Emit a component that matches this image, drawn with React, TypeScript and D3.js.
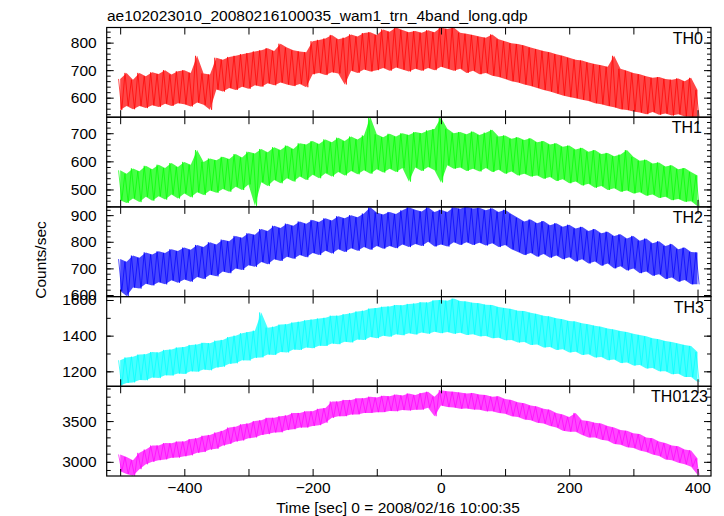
import { useRef, useEffect } from 'react'
import * as d3 from 'd3'

const title = 'ae102023010_20080216100035_wam1_trn_4band_long.qdp'
const xTitle = 'Time [sec] 0 = 2008/02/16 10:00:35'
const yTitle = 'Counts/sec'

// bin centres, 10 s apart
const times = d3.range(-500, 401, 10)
const xTicks = [-500, -400, -300, -200, -100, 0, 100, 200, 300, 400]
const xLabels = [-400, -200, 0, 200, 400]

// low / high edge of each light curve per 10 s bin
const th0Lo = [
  555, 570, 558, 570, 562, 572, 566, 578, 570, 580,
  576, 568, 582, 574, 556, 630, 622, 635, 628, 640,
  632, 645, 640, 652, 645, 655, 648, 642, 650, 638,
  685, 690, 682, 692, 688, 648, 698, 690, 702, 695,
  700, 708, 698, 710, 702, 695, 705, 698, 708, 700,
  712, 705, 698, 705, 690, 698, 685, 690, 680, 675,
  668, 660, 655, 648, 642, 635, 628, 622, 615, 608,
  602, 598, 592, 588, 580, 576, 570, 565, 558, 555,
  550, 546, 540, 548, 538, 542, 535, 540, 532, 530,
  530,
]
const th0Hi = [
  668, 690, 665, 690, 678, 692, 686, 700, 684, 696,
  700, 690, 752, 688, 684, 745, 738, 748, 752, 758,
  762, 768, 772, 780, 770, 796, 782, 772, 768, 765,
  805, 810, 815, 828, 812, 818, 830, 822, 835, 838,
  828, 848, 840, 855, 846, 838, 842, 836, 845, 838,
  855, 850, 855, 836, 832, 828, 822, 818, 830, 812,
  805, 798, 795, 790, 782, 776, 770, 765, 758, 752,
  745, 738, 735, 728, 722, 718, 712, 752, 705, 698,
  690, 685, 678, 672, 675, 668, 665, 670, 660, 672,
  628,
]
const th1Lo = [
  462, 452, 468, 455, 474, 460, 476, 464, 482, 468,
  486, 472, 490, 480, 496, 488, 502, 492, 510, 498,
  518, 442, 526, 512, 534, 522, 540, 528, 546, 534,
  552, 540, 558, 546, 562, 550, 566, 554, 568, 556,
  572, 560, 574, 562, 576, 528, 578, 566, 580, 568,
  525, 586, 574, 578, 566, 574, 564, 576, 562, 570,
  556, 564, 550, 556, 546, 550, 538, 544, 530, 536,
  522, 528, 514, 520, 506, 512, 498, 504, 492, 496,
  486, 490, 478, 482, 470, 474, 462, 466, 456, 458,
  440,
]
const th1Hi = [
  568, 556, 575, 565, 584, 572, 588, 576, 594, 580,
  598, 588, 640, 598, 610, 604, 616, 608, 626, 614,
  634, 628, 644, 632, 650, 640, 656, 644, 664, 660,
  672, 662, 678, 668, 684, 672, 688, 678, 692, 758,
  696, 686, 698, 688, 700, 694, 704, 700, 710, 715,
  756, 716, 700, 704, 696, 706, 694, 702, 712, 688,
  692, 680, 686, 676, 682, 668, 672, 660, 664, 652,
  656, 642, 648, 634, 640, 626, 630, 618, 624, 640,
  616, 602, 606, 592, 596, 582, 586, 572, 576, 562,
  550,
]
const th2Lo = [
  615, 596, 628, 624, 642, 636, 648, 640, 655, 646,
  658, 650, 668, 660, 676, 670, 688, 682, 700, 694,
  712, 706, 724, 716, 734, 728, 744, 736, 750, 742,
  758, 750, 766, 756, 772, 762, 776, 766, 780, 770,
  784, 774, 784, 776, 790, 780, 792, 784, 800, 782,
  790, 782, 798, 788, 798, 788, 796, 786, 794, 780,
  788, 772, 762, 750, 758, 744, 754, 740, 748, 734,
  742, 726, 734, 718, 726, 710, 718, 700, 708, 692,
  700, 682, 688, 672, 678, 660, 666, 650, 656, 640,
  640,
]
const th2Hi = [
  735, 725, 748, 740, 760, 752, 764, 758, 772, 765,
  778, 770, 788, 780, 798, 790, 808, 802, 822, 815,
  832, 826, 848, 840, 860, 852, 868, 860, 876, 868,
  882, 874, 888, 880, 896, 888, 900, 892, 906, 930,
  910, 902, 912, 904, 918, 930, 920, 914, 930, 912,
  920, 912, 930, 924, 932, 925, 928, 918, 926, 912,
  920, 904, 890, 876, 884, 870, 878, 862, 870, 856,
  864, 850, 856, 840, 848, 832, 838, 822, 828, 812,
  822, 804, 812, 794, 802, 784, 792, 772, 778, 762,
  760,
]
const th3Lo = [
  1120, 1135, 1138, 1152, 1150, 1165, 1162, 1178, 1176, 1188,
  1185, 1200, 1198, 1210, 1206, 1222, 1226, 1242, 1245, 1262,
  1260, 1276, 1278, 1294, 1292, 1308, 1306, 1322, 1320, 1334,
  1330, 1344, 1342, 1356, 1352, 1366, 1362, 1378, 1376, 1392,
  1386, 1400, 1394, 1408, 1402, 1414, 1406, 1418, 1410, 1422,
  1414, 1420, 1410, 1416, 1404, 1408, 1396, 1398, 1386, 1388,
  1374, 1376, 1362, 1364, 1348, 1350, 1334, 1336, 1320, 1324,
  1306, 1310, 1292, 1296, 1278, 1280, 1262, 1266, 1246, 1250,
  1232, 1236, 1216, 1218, 1200, 1200, 1184, 1186, 1168, 1168,
  1140,
]
const th3Hi = [
  1262, 1278, 1282, 1294, 1296, 1308, 1306, 1320, 1322, 1334,
  1336, 1348, 1350, 1360, 1358, 1372, 1376, 1392, 1400, 1414,
  1420, 1428, 1530, 1445, 1450, 1462, 1464, 1474, 1478, 1486,
  1490, 1496, 1500, 1512, 1512, 1520, 1526, 1536, 1540, 1552,
  1555, 1562, 1564, 1572, 1570, 1578, 1580, 1588, 1586, 1598,
  1600, 1596, 1608, 1594, 1592, 1584, 1582, 1574, 1572, 1560,
  1555, 1550, 1540, 1538, 1528, 1522, 1512, 1508, 1498, 1492,
  1482, 1480, 1470, 1464, 1456, 1450, 1440, 1434, 1426, 1420,
  1410, 1404, 1396, 1386, 1380, 1370, 1364, 1356, 1348, 1342,
  1308,
]
const thAllLo = [
  2885, 2850, 2830, 2910, 2970, 3000, 3020, 3030, 3050, 3052,
  3068, 3080, 3110, 3120, 3150, 3160, 3200, 3220, 3250, 3262,
  3290, 3300, 3330, 3340, 3360, 3362, 3390, 3400, 3420, 3420,
  3440, 3450, 3480, 3540, 3560, 3560, 3580, 3582, 3600, 3600,
  3610, 3610, 3625, 3620, 3635, 3630, 3640, 3640, 3665, 3560,
  3690, 3672, 3668, 3650, 3655, 3642, 3640, 3620, 3620, 3600,
  3590, 3560, 3550, 3520, 3510, 3480, 3470, 3440, 3420, 3380,
  3370, 3370, 3330, 3300, 3300, 3270, 3260, 3220, 3210, 3180,
  3170, 3140, 3120, 3090, 3070, 3030, 3020, 2990, 2970, 2940,
  2840,
]
const thAllHi = [
  3090, 3060, 3020, 3110, 3150, 3200, 3200, 3230, 3228, 3250,
  3250, 3280, 3290, 3320, 3330, 3360, 3380, 3420, 3430, 3460,
  3470, 3500, 3510, 3540, 3540, 3560, 3570, 3600, 3600, 3620,
  3620, 3650, 3660, 3740, 3740, 3760, 3760, 3780, 3780, 3800,
  3790, 3810, 3805, 3825, 3815, 3840, 3820, 3845, 3860, 3800,
  3880, 3865, 3860, 3850, 3840, 3845, 3825, 3820, 3800, 3805,
  3770, 3760, 3730, 3720, 3690, 3680, 3650, 3640, 3600, 3580,
  3550, 3600, 3510, 3500, 3480, 3470, 3440, 3420, 3390, 3380,
  3350, 3340, 3300, 3290, 3250, 3230, 3200, 3190, 3150, 3140,
  3040,
]

interface Panel {
  name: string
  color: string
  lo: number[]
  hi: number[]
  domain: [number, number]
  major: number[]
  minorStep: number
  labelX: number
}

const panels: Panel[] = [
  { name: 'TH0', color: '#ff0000', lo: th0Lo, hi: th0Hi, domain: [529, 855], major: [600, 700, 800], minorStep: 20, labelX: 703 },
  { name: 'TH1', color: '#00ff00', lo: th1Lo, hi: th1Hi, domain: [438, 757], major: [500, 600, 700], minorStep: 20, labelX: 702 },
  { name: 'TH2', color: '#0000ff', lo: th2Lo, hi: th2Hi, domain: [594, 931], major: [600, 700, 800, 900], minorStep: 20, labelX: 703 },
  { name: 'TH3', color: '#00ffff', lo: th3Lo, hi: th3Hi, domain: [1116, 1619], major: [1200, 1400, 1600], minorStep: 100, labelX: 704 },
  { name: 'TH0123', color: '#ff00ff', lo: thAllLo, hi: thAllHi, domain: [2826, 3927], major: [3000, 3500], minorStep: 100, labelX: 708 },
]

const font = '"Liberation Sans", Arial, Helvetica, sans-serif'

const App = () => {
  const ref = useRef<SVGSVGElement>(null)

  useEffect(() => {
    if (!ref.current) return
    const svg = d3.select(ref.current)
    svg.selectAll('*').remove()

    const left = 106.7
    const right = 711
    const top = 27.5
    const panelH = 89.7

    const x = d3.scaleLinear().domain([-521, 421]).range([left, right])

    const tidy = (g: d3.Selection<SVGGElement, unknown, null, undefined>) => {
      g.select('.domain').remove()
      g.selectAll('line').attr('stroke', '#000').attr('stroke-width', 1)
      g.selectAll('text').attr('font-size', 15.5).attr('font-family', font).attr('fill', '#000')
    }

    svg.append('text')
      .attr('x', 107).attr('y', 20.5)
      .attr('font-size', 15.5).attr('font-family', font)
      .text(title)

    panels.forEach((p, i) => {
      const y0 = top + i * panelH
      const y1 = y0 + panelH
      const y = d3.scaleLinear().domain(p.domain).range([y1, y0])

      const clipId = `clip-${i}`
      svg.append('clipPath').attr('id', clipId)
        .append('rect')
        .attr('x', left).attr('y', y0)
        .attr('width', right - left).attr('height', panelH)

      const g = svg.append('g').attr('clip-path', `url(#${clipId})`)

      const area = d3.area<number>()
        .x((_, j) => x(times[j]))
        .y0((_, j) => y(p.lo[j]))
        .y1((_, j) => y(p.hi[j]))
      g.append('path').datum(times)
        .attr('d', area)
        .attr('fill', p.color)
        .attr('opacity', 0.72)

      const zig: [number, number][] = times.flatMap((t, j) => [
        [t - 2.5, p.hi[j]],
        [t + 2.5, p.lo[j]],
      ] as [number, number][])
      const line = d3.line<[number, number]>().x(d => x(d[0])).y(d => y(d[1]))
      g.append('path').datum(zig)
        .attr('d', line)
        .attr('fill', 'none')
        .attr('stroke', p.color)
        .attr('stroke-width', 0.7)

      const minor = d3.range(
        Math.ceil(p.domain[0] / p.minorStep) * p.minorStep,
        p.domain[1],
        p.minorStep,
      )

      // y ticks, both sides, pointing inward
      svg.append('g').attr('transform', `translate(${left},0)`)
        .call(d3.axisLeft(y).tickValues(minor).tickSize(-4).tickFormat(() => ''))
        .call(tidy)
      svg.append('g').attr('transform', `translate(${left},0)`)
        .call(d3.axisLeft(y).tickValues(p.major).tickSize(-7).tickPadding(10).tickFormat(d3.format('d')))
        .call(tidy)
      svg.append('g').attr('transform', `translate(${right},0)`)
        .call(d3.axisRight(y).tickValues(minor).tickSize(-4).tickFormat(() => ''))
        .call(tidy)
      svg.append('g').attr('transform', `translate(${right},0)`)
        .call(d3.axisRight(y).tickValues(p.major).tickSize(-7).tickFormat(() => ''))
        .call(tidy)

      // x ticks at top and bottom of each panel
      svg.append('g').attr('transform', `translate(0,${y0})`)
        .call(d3.axisTop(x).tickValues(xTicks).tickSize(-7).tickFormat(() => ''))
        .call(tidy)
      const last = i === panels.length - 1
      svg.append('g').attr('transform', `translate(0,${y1})`)
        .call(
          d3.axisBottom(x).tickValues(xTicks).tickSize(-7).tickPadding(6)
            .tickFormat(d => (last && xLabels.includes(+d) ? d3.format('d')(+d) : '')),
        )
        .call(tidy)

      svg.append('rect')
        .attr('x', left).attr('y', y0)
        .attr('width', right - left).attr('height', panelH)
        .attr('fill', 'none').attr('stroke', '#000').attr('stroke-width', 1.2)

      svg.append('text')
        .attr('x', p.labelX).attr('y', y0 + 16)
        .attr('text-anchor', 'end')
        .attr('font-size', 16).attr('font-family', font)
        .text(p.name)
    })

    svg.append('text')
      .attr('transform', 'translate(46,260) rotate(-90)')
      .attr('text-anchor', 'middle')
      .attr('font-size', 15.5).attr('font-family', font)
      .text(yTitle)

    svg.append('text')
      .attr('x', 398).attr('y', 513)
      .attr('text-anchor', 'middle')
      .attr('font-size', 15.5).attr('font-family', font)
      .text(xTitle)
  }, [])

  return (
    <svg
      ref={ref}
      width={724}
      height={516}
      style={{ position: 'absolute', left: 0, top: 0, background: '#fff' }}
    />
  )
}

export default App
